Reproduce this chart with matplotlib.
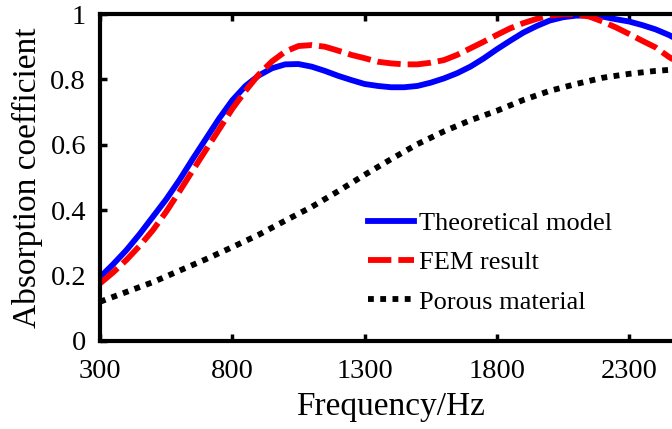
import matplotlib
matplotlib.use('Agg')
import matplotlib.pyplot as plt

plt.rcParams['font.family'] = ['Liberation Serif', 'DejaVu Serif']

# === Data ===
freq = [300, 350, 400, 450, 500, 550, 600, 650, 700, 750, 800, 850, 900, 950,
        1000, 1050, 1100, 1150, 1200, 1250, 1300, 1350, 1400, 1450, 1500, 1550,
        1600, 1650, 1700, 1750, 1800, 1850, 1900, 1950, 2000, 2050, 2100, 2150,
        2200, 2250, 2300, 2350, 2400, 2450, 2500]

theory = [0.195, 0.235, 0.278, 0.327, 0.380, 0.433, 0.492, 0.556, 0.618, 0.680,
          0.736, 0.780, 0.812, 0.834, 0.846, 0.847, 0.839, 0.826, 0.811, 0.798,
          0.786, 0.780, 0.776, 0.776, 0.780, 0.790, 0.803, 0.819, 0.839, 0.864,
          0.892, 0.918, 0.943, 0.963, 0.980, 0.990, 0.995, 0.995, 0.992, 0.984,
          0.977, 0.966, 0.953, 0.936, 0.915]

fem = [0.176, 0.210, 0.248, 0.291, 0.339, 0.395, 0.457, 0.521, 0.584, 0.647,
       0.710, 0.765, 0.815, 0.855, 0.885, 0.902, 0.905, 0.900, 0.888, 0.875,
       0.865, 0.854, 0.849, 0.846, 0.846, 0.851, 0.859, 0.875, 0.895, 0.915,
       0.936, 0.956, 0.972, 0.985, 0.995, 0.999, 0.999, 0.992, 0.977, 0.959,
       0.939, 0.918, 0.898, 0.869, 0.845]

freq_porous = [300, 400, 500, 600, 700, 800, 900, 1000, 1100, 1200, 1300, 1400,
               1500, 1600, 1700, 1800, 1900, 2000, 2100, 2200, 2300, 2400, 2500]

porous = [0.120, 0.150, 0.180, 0.215, 0.250, 0.287, 0.325, 0.368, 0.410, 0.458,
          0.508, 0.556, 0.602, 0.641, 0.675, 0.704, 0.737, 0.765, 0.786, 0.805,
          0.817, 0.826, 0.832]

xticks = [300, 800, 1300, 1800, 2300]
yticks = [0, 0.2, 0.4, 0.6, 0.8, 1.0]
ytick_labels = ['0', '0.2', '0.4', '0.6', '0.8', '1']

# === Plot ===
fig = plt.figure(figsize=(6.72, 4.29), dpi=100)
ax = fig.add_axes([100 / 672, 88 / 429, 582 / 672, 327 / 429])

lw = 4.2
ax.plot(freq, theory, color='#0000ff', lw=lw, label='Theoretical model')
ax.plot(freq, fem, color='#ff0000', lw=lw, linestyle=(0, (4, 1.2)), label='FEM result')
ax.plot(freq_porous, porous, color='black', lw=lw, linestyle=(0, (1, 1.1)),
        label='Porous material')

ax.set_xlim(300, 2500)
ax.set_ylim(0, 1)
ax.set_xticks(xticks)
ax.set_yticks(yticks)
ax.set_yticklabels(ytick_labels)

for side in ['left', 'right', 'top', 'bottom']:
    ax.spines[side].set_linewidth(3)

ax.tick_params(direction='in', length=5, width=2.5, top=True, right=True,
               labelsize=20.5)
ax.tick_params(axis='x', pad=13)
ax.tick_params(axis='y', pad=10)

ax.set_xlabel('Frequency/Hz', fontsize=24, labelpad=5)
ax.set_ylabel('Absorption coefficient', fontsize=24, labelpad=5)

ax.legend(loc='center left', bbox_to_anchor=(368 / 672, 1 - 262.5 / 429),
          bbox_transform=fig.transFigure, frameon=False, fontsize=19,
          handlelength=1.74, handletextpad=0.2, labelspacing=0.6,
          borderpad=0, borderaxespad=0)

fig.savefig('out.png', dpi=100)
